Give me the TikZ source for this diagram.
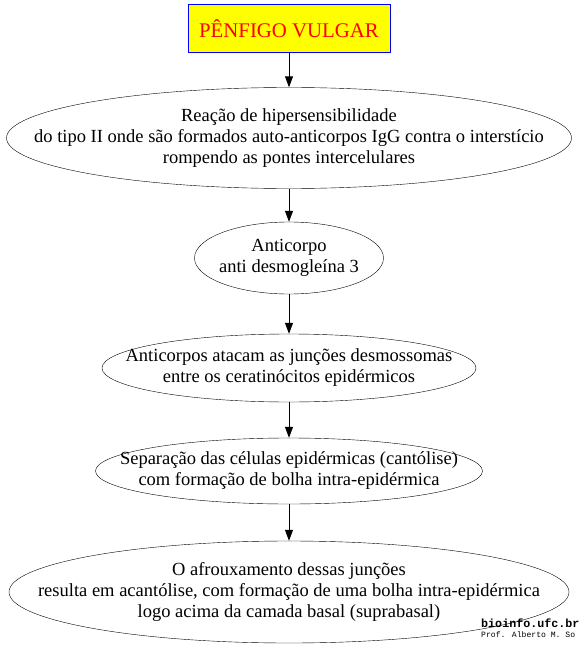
\documentclass[tikz,border=0pt]{standalone}
\usepackage{fontspec}
\setmainfont{Liberation Serif}
\newfontfamily\monofont{Liberation Mono}
\usetikzlibrary{shapes.geometric,arrows.meta}
\definecolor{titleyellow}{RGB}{255,255,0}
\definecolor{titleblue}{RGB}{0,0,255}
\definecolor{titlered}{RGB}{255,0,0}

\begin{document}
\begin{tikzpicture}[x=1pt,y=-1pt,
  bubble/.style={draw,ellipse,inner sep=-95pt,align=center,
    font=\fontsize{18.5}{21}\selectfont},
  flow/.style={-{Triangle[length=11pt,width=8pt]},line width=1pt}]
  \useasboundingbox (0,0) rectangle (578,650);
  \node[draw=titleblue,fill=titleyellow,text=titlered,line width=1pt,
    minimum width=202pt,minimum height=48pt,font=\fontsize{20.8}{22}\selectfont]
    (titulo) at (289,29) {PÊNFIGO VULGAR};
  \node[bubble,minimum width=565pt,minimum height=101pt] (reacao) at (289,138)
    {Reação de hipersensibilidade\\do tipo II onde são formados auto-anticorpos IgG contra o interstício\\rompendo as pontes intercelulares};
  \node[bubble,minimum width=189pt,minimum height=72pt] (anticorpo) at (289,258)
    {Anticorpo\\anti desmogleína 3};
  \node[bubble,minimum width=374pt,minimum height=68pt] (ataque) at (289,368)
    {Anticorpos atacam as junções desmossomas\\entre os ceratinócitos epidérmicos};
  \node[bubble,minimum width=387pt,minimum height=66pt] (separacao) at (289,471)
    {Separação das células epidérmicas (cantólise)\\com formação de bolha intra-epidérmica};
  \node[bubble,minimum width=560pt,minimum height=102pt] (afrouxa) at (289,592)
    {O afrouxamento dessas junções\\resulta em acantólise, com formação de uma bolha intra-epidérmica\\logo acima da camada basal (suprabasal)};
  \draw[flow] (titulo) -- (reacao);
  \draw[flow] (reacao) -- (anticorpo);
  \draw[flow] (anticorpo) -- (ataque);
  \draw[flow] (ataque) -- (separacao);
  \draw[flow] (separacao) -- (afrouxa);
  % marca
  \node[anchor=base west,inner sep=0pt,font=\monofont\bfseries\fontsize{11.7}{12}\selectfont]
    (site) at (481,627) {bioinfo.ufc.br};
  \node[anchor=base west,inner sep=0pt,font=\monofont\fontsize{8.1}{9}\selectfont]
    (autor) at (481,637) {Prof. Alberto M. So};
\end{tikzpicture}
\end{document}
